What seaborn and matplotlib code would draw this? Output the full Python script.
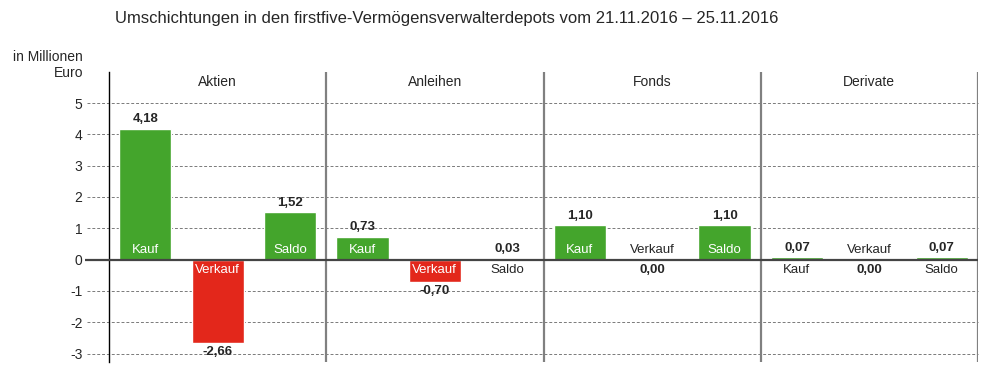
import numpy as np
import pandas as pd
import seaborn as sns
import matplotlib.pyplot as plt

# data (in Mio. Euro)
groups = ['Aktien', 'Anleihen', 'Fonds', 'Derivate']
kinds = ['Kauf', 'Verkauf', 'Saldo']
aktien = [4.18, -2.66, 1.52]
anleihen = [0.73, -0.70, 0.03]
fonds = [1.10, 0.00, 1.10]
derivate = [0.07, 0.00, 0.07]
y_ticks = [-3, -2, -1, 0, 1, 2, 3, 4, 5]

green = '#44a52c'
red = '#e3271b'

values = aktien + anleihen + fonds + derivate
slots = [g + ' ' + k for g in groups for k in kinds]
df = pd.DataFrame({
    'slot': slots,
    'kind': kinds * len(groups),
    'wert': values,
})
palette = {s: (green if v >= 0 else red) for s, v in zip(df['slot'], df['wert'])}

sns.set_style('white')
plt.rcParams['font.family'] = ['Liberation Sans', 'DejaVu Sans']

fig = plt.figure(figsize=(10.04, 3.84), dpi=100)
ax = fig.add_axes([109 / 1004, 1 - 362 / 384, (978 - 109) / 1004, (362 - 72) / 384])

sns.barplot(data=df, x='slot', y='wert', hue='slot', palette=palette, order=slots,
            width=0.72, saturation=1, legend=False, ax=ax, zorder=3)

ax.set_xlim(-0.5, len(slots) - 0.5)
ax.set_ylim(-3.27, 5.99)
ax.set_xlabel('')
ax.set_ylabel('')
ax.set_xticks([])
ax.set_yticks(y_ticks)
ax.set_yticklabels([str(t) for t in y_ticks], fontsize=10)
ax.tick_params(axis='y', length=0, pad=19)

for s in ['top', 'right', 'bottom']:
    ax.spines[s].set_visible(False)
ax.spines['left'].set_color('black')
ax.spines['left'].set_linewidth(1.0)

# dashed gridlines reaching out to the tick labels
trans = ax.get_yaxis_transform()
for t in y_ticks:
    if t == 0:
        ax.hlines(t, -0.028, 1, transform=trans, color='#444444', lw=1.6, clip_on=False, zorder=4)
    else:
        ax.hlines(t, -0.0253, 1, transform=trans, color='#7a7a7a', lw=0.7,
                  linestyles=(0, (3, 2)), clip_on=False, zorder=1)

# group separators and headers
for i, g in enumerate(groups):
    ax.axvline(i * 3 + 2.5, color='#808080', lw=1.6, zorder=2)
    ax.text(i * 3 + 1, 5.66, g, ha='center', va='center', fontsize=10)

# bar labels
for i, (k, v) in enumerate(zip(df['kind'], df['wert'])):
    txt = f'{v:.2f}'.replace('.', ',')
    if v == 0:
        ax.text(i, 0.3, k, ha='center', va='center', fontsize=9.5, zorder=5)
        ax.text(i, -0.33, txt, ha='center', va='center', fontsize=9.5, fontweight='bold', zorder=5)
    elif v > 0:
        ax.text(i, v + 0.3, txt, ha='center', va='center', fontsize=9.5, fontweight='bold', zorder=5)
        if v >= 0.5:
            ax.text(i, 0.32, k, ha='center', va='center', fontsize=9.5, color='white', zorder=5)
        else:
            ax.text(i, -0.33, k, ha='center', va='center', fontsize=9.5, zorder=5)
    else:
        ax.text(i, -0.32, k, ha='center', va='center', fontsize=9.5, color='white', zorder=5)
        ax.text(i, v - 0.3, txt, ha='center', va='center', fontsize=9.5, fontweight='bold', zorder=5)

fig.text(447 / 1004, 1 - 18 / 384,
         'Umschichtungen in den firstfive-Vermögensverwalterdepots vom 21.11.2016 – 25.11.2016',
         ha='center', va='center', fontsize=12)
fig.text(83 / 1004, 1 - 65 / 384, 'in Millionen\nEuro', ha='right', va='center',
         multialignment='right', fontsize=10, linespacing=1.15)

fig.savefig('out.png', dpi=100)
